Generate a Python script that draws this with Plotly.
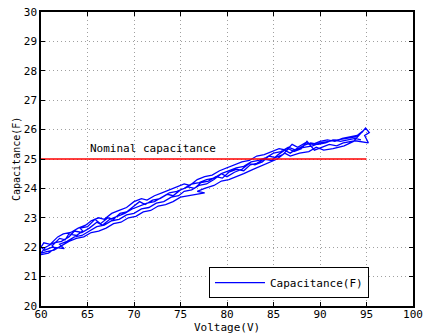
import plotly.graph_objects as go

# Measured capacitance sweeps: (voltage V, capacitance F), in recording order
sweep1 = [(60.0, 21.75), (60.8, 21.80), (61.5, 21.95), (61.2, 22.05), (62.0, 22.30), (62.6, 22.25),
          (63.0, 22.45), (63.8, 22.40), (64.5, 22.55), (64.2, 22.65), (65.0, 22.70), (65.8, 22.95),
          (66.4, 22.80), (67.2, 23.00), (67.8, 22.95), (68.5, 23.15), (69.2, 23.20), (70.0, 23.40),
          (70.6, 23.55), (71.2, 23.45), (72.0, 23.60), (72.8, 23.65), (73.6, 23.80), (74.2, 23.75),
          (75.0, 23.95), (75.8, 24.05), (76.5, 24.00), (77.2, 24.20), (78.0, 24.25), (78.8, 24.40),
          (79.5, 24.35), (80.2, 24.55), (81.0, 24.65), (81.8, 24.60), (82.5, 24.80), (83.2, 24.85),
          (84.0, 25.00), (84.8, 24.95), (85.5, 25.15), (86.2, 25.30), (86.8, 25.20), (87.5, 25.35),
          (88.4, 25.40), (89.2, 25.45), (90.0, 25.55), (91.0, 25.60), (92.0, 25.65), (93.0, 25.70),
          (93.8, 25.75), (94.5, 25.90), (94.9, 26.05), (95.3, 25.90), (94.8, 25.80), (95.2, 25.55)]
sweep2 = [(93.8, 25.62), (92.5, 25.55), (91.8, 25.45), (91.0, 25.50), (90.2, 25.40), (89.4, 25.30),
          (88.6, 25.60), (88.0, 25.35), (87.2, 25.25), (86.6, 25.35), (86.0, 25.15), (85.2, 25.05),
          (84.5, 25.10), (83.8, 24.90), (83.0, 24.80), (82.4, 24.85), (81.6, 24.65), (80.8, 24.55),
          (80.0, 24.40), (79.4, 24.50), (78.6, 24.30), (77.8, 24.15), (77.0, 24.10), (76.2, 23.95),
          (75.4, 23.90), (74.8, 23.75), (74.0, 23.70), (73.2, 23.55), (72.4, 23.50), (71.6, 23.35),
          (70.8, 23.30), (70.0, 23.15), (69.2, 23.10), (68.4, 22.95), (67.6, 22.90), (66.8, 22.75),
          (66.0, 22.70), (65.2, 22.55), (64.4, 22.40), (63.6, 22.35), (62.8, 22.20), (62.0, 22.10),
          (62.5, 21.95), (61.2, 22.00), (60.4, 21.90), (60.0, 22.00)]
sweep3 = [(60.3, 22.15), (61.0, 22.10), (61.8, 22.35), (62.4, 22.45), (63.2, 22.50), (64.0, 22.65),
          (64.8, 22.75), (65.4, 22.90), (66.2, 23.00), (66.8, 22.95), (67.6, 23.15), (68.4, 23.25),
          (69.2, 23.35), (70.0, 23.55), (70.8, 23.65), (71.4, 23.60), (72.2, 23.75), (73.0, 23.85),
          (73.8, 23.95), (74.6, 24.05), (75.4, 24.15), (76.0, 24.10), (76.8, 24.30), (77.6, 24.40),
          (78.4, 24.45), (79.2, 24.60), (80.0, 24.70), (80.8, 24.80), (81.6, 24.90), (82.4, 24.95),
          (83.2, 25.10), (84.0, 25.15), (84.8, 25.25), (85.6, 25.35), (86.4, 25.30), (87.0, 25.50),
          (87.6, 25.40), (88.4, 25.55), (89.2, 25.50), (90.0, 25.60), (90.8, 25.65), (91.6, 25.60),
          (92.4, 25.70), (93.2, 25.75), (94.0, 25.80), (94.6, 25.95)]
sweep4 = [(93.6, 25.60), (92.6, 25.45), (91.4, 25.35), (90.4, 25.30), (89.6, 25.40), (88.8, 25.25),
          (87.8, 25.20), (86.8, 25.10), (86.2, 25.20), (85.4, 25.00), (84.6, 24.90), (83.6, 24.75),
          (82.8, 24.65), (81.8, 24.50), (81.0, 24.40), (80.2, 24.30), (79.4, 24.25), (78.6, 24.10),
          (77.6, 24.00), (76.8, 23.90), (77.6, 23.85), (75.8, 23.75), (75.0, 23.70), (74.2, 23.55),
          (73.4, 23.45), (72.6, 23.40), (71.8, 23.25), (71.0, 23.20), (70.2, 23.05), (69.4, 23.00),
          (68.6, 22.85), (67.8, 22.80), (67.0, 22.65), (66.2, 22.55), (65.4, 22.50), (64.6, 22.35),
          (63.8, 22.30), (63.0, 22.20), (62.2, 22.05), (61.4, 21.90), (60.6, 21.85), (60.0, 21.80)]
sweep5 = [(60.5, 22.00), (61.4, 22.15), (62.2, 22.20), (63.0, 22.35), (63.6, 22.55), (64.4, 22.50),
          (65.2, 22.65), (66.0, 22.85), (66.6, 22.75), (67.4, 22.95), (68.2, 23.05), (69.0, 23.15),
          (69.8, 23.30), (70.6, 23.40), (71.4, 23.50), (72.2, 23.55), (73.0, 23.70), (73.8, 23.85),
          (74.6, 23.90), (75.4, 24.00), (76.2, 24.15), (77.0, 24.20), (77.8, 24.30), (78.6, 24.35),
          (79.4, 24.50), (80.2, 24.60), (81.0, 24.70), (81.8, 24.75), (82.6, 24.90), (83.4, 24.95),
          (84.2, 25.05), (85.0, 25.20), (85.8, 25.25), (86.6, 25.40), (87.4, 25.30), (88.2, 25.45),
          (89.0, 25.55), (89.8, 25.50), (90.6, 25.55), (91.4, 25.65), (92.2, 25.60), (93.0, 25.65),
          (93.8, 25.70), (94.4, 25.65)]

nominal_x = [60, 95]
nominal_value = 25

x_ticks = [60, 65, 70, 75, 80, 85, 90, 95, 100]
y_ticks = [20, 21, 22, 23, 24, 25, 26, 27, 28, 29, 30]

points = sweep1 + sweep2 + sweep3 + sweep4 + sweep5
voltage = [p[0] for p in points]
capacitance = [p[1] for p in points]

FONT = "DejaVu Sans Mono"

fig = go.Figure()
fig.add_trace(go.Scatter(
    x=voltage, y=capacitance, mode="lines", name="Capacitance(F)",
    line=dict(color="#0000ff", width=1.3),
))
fig.add_trace(go.Scatter(
    x=nominal_x, y=[nominal_value] * len(nominal_x), mode="lines",
    line=dict(color="#ff0000", width=1.5), showlegend=False,
))
fig.add_annotation(
    x=65, y=nominal_value, xref="x", yref="y", text="Nominal capacitance",
    showarrow=False, xanchor="left", yanchor="bottom", yshift=2,
    font=dict(family=FONT, size=11, color="black"),
)
# axis titles
fig.add_annotation(
    x=0.5, y=0, xref="paper", yref="paper", text="Voltage(V)",
    showarrow=False, xanchor="center", yanchor="top", yshift=-13,
    font=dict(family=FONT, size=11, color="black"),
)
fig.add_annotation(
    x=0, y=0.5, xref="paper", yref="paper", text="Capacitance(F)",
    showarrow=False, xanchor="center", yanchor="middle", xshift=-25, textangle=-90,
    font=dict(family=FONT, size=10, color="black"),
)

axis_common = dict(
    showline=True, linecolor="black", linewidth=1.5, mirror="ticks",
    ticks="inside", ticklen=4, tickcolor="black",
    showgrid=True, gridcolor="#a0a0a0", griddash="1px,3px", gridwidth=1,
    zeroline=False, automargin=False,
    tickfont=dict(family=FONT, size=11, color="black"),
)
fig.update_xaxes(
    range=[60, 100], tickvals=x_ticks, ticktext=[str(v) for v in x_ticks],
    ticklabelstandoff=-3,
    **axis_common,
)
fig.update_yaxes(
    range=[20, 30], tickvals=y_ticks, ticktext=[str(v) for v in y_ticks],
    **axis_common,
)
fig.update_layout(
    width=423, height=333,
    margin=dict(l=41, r=10, t=12, b=27),
    plot_bgcolor="white", paper_bgcolor="white",
    legend=dict(
        x=0.8817, y=0.027, xanchor="right", yanchor="bottom",
        bordercolor="black", borderwidth=1, bgcolor="white",
        font=dict(family=FONT, size=11, color="black"),
        itemwidth=50,
    ),
)
# remove the browser's default 8px body margin so the figure fills the window
fig.write_html(
    "out.html",
    config={"displayModeBar": False},
    post_script="document.body.style.margin='0';document.body.style.overflow='hidden';",
)
